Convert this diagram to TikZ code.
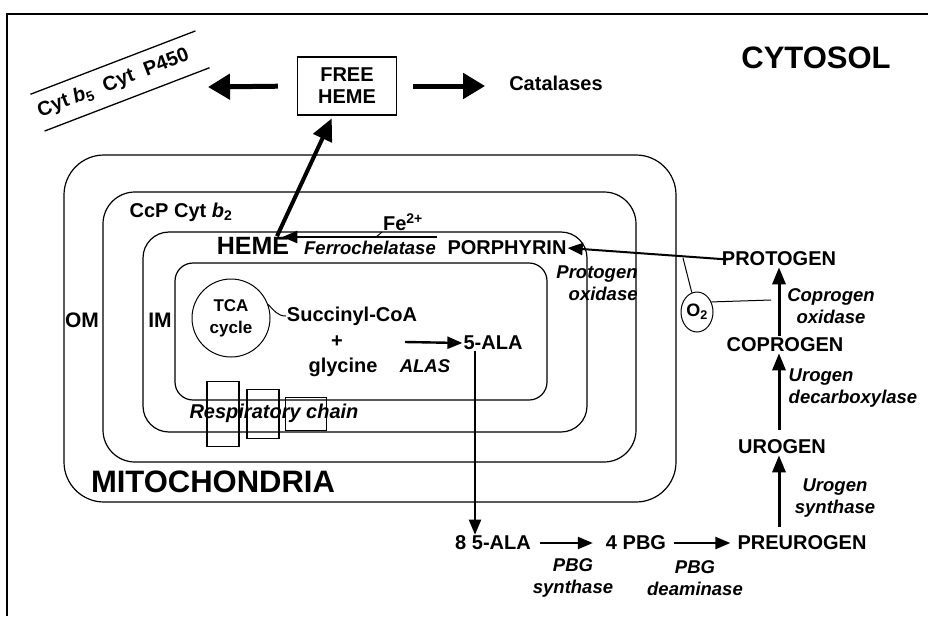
\documentclass[tikz,border=0pt]{standalone}
\usepackage{fontspec}
\setmainfont{Liberation Sans}
\usetikzlibrary{arrows.meta,positioning,shapes.geometric}
\tikzset{
  lbl/.style={font=\bfseries\fontsize{20}{22}\selectfont, inner sep=1pt},
  big/.style={font=\bfseries\fontsize{31}{33}\selectfont, inner sep=1pt},
  enz/.style={font=\bfseries\itshape\fontsize{18.5}{22}\selectfont, align=center, inner sep=1pt},
  memb/.style={draw, line width=1.2pt},
  rc/.style={draw, line width=1.6pt, inner sep=0pt},
  link/.style={line width=1pt},
  fat/.style={-{Triangle[length=22pt,width=25pt]}, line width=5pt},
  fat2/.style={-{Triangle[length=22pt,width=20pt]}, line width=4pt},
  arr/.style={-{Triangle[length=15pt,width=12pt]}, line width=2.4pt},
  uparr/.style={-{Triangle[length=17pt,width=13pt]}, line width=3pt}
}
\begin{document}
\begin{tikzpicture}[x=1pt,y=-1pt]
\useasboundingbox (0,0) rectangle (928,616);
\draw[line width=1.5pt] (7,616) -- (7,14) -- (928,14);

% membranes
\draw[memb, rounded corners=40pt] (64,155) rectangle (676,502);
\draw[memb, rounded corners=32pt] (103,192) rectangle (636,462);
\draw[memb, rounded corners=26pt] (143,232) rectangle (587,432);
\draw[memb, rounded corners=18pt] (175,263) rectangle (547,400);

% cytosol
\node[lbl, draw, line width=1.3pt, minimum width=99pt, minimum height=58pt, align=center] (freeheme) at (347,86) {FREE\\HEME};
\node[big] (cyto) at (816,58) {CYTOSOL};
\node[lbl] (catal) at (556,83) {Catalases};
\node[lbl, rotate=21, minimum width=170pt, minimum height=39pt] (cyt) at (120,81) {Cyt \textit{b}\textsubscript{5}\hspace{0.3em} Cyt\hspace{0.3em} P450\hspace*{14pt}};
\draw[link, line width=1.3pt] (cyt.north west) -- (cyt.north east);
\draw[link, line width=1.3pt] (cyt.south west) -- (cyt.south east);
\coordinate (tocyt) at (208,87);
\draw[fat, shorten <=19pt] (freeheme.west) -- (tocyt);
\draw[fat, shorten <=16pt, shorten >=23pt] (freeheme.east) -- (freeheme.east -| catal.west);

% mitochondria
\node[big] (mito) at (213,482) {MITOCHONDRIA};
\node[lbl, font=\bfseries\fontsize{21}{22}\selectfont] (om) at (82,320) {OM};
\node[lbl, font=\bfseries\fontsize{21}{22}\selectfont] (im) at (160,320) {IM};
\node[lbl] (ccp) at (181,212) {CcP Cyt \textit{b}\textsubscript{2}};
\node[lbl, font=\bfseries\fontsize{25}{27}\selectfont] (heme) at (253,246) {HEME};
\node[lbl] (fe) at (403,222) {Fe\textsuperscript{2+}};
\node[enz] (ferro) at (370,248) {Ferrochelatase};
\node[lbl] (porph) at (507,248) {PORPHYRIN};
\node[draw, circle, minimum size=78pt, inner sep=0pt, line width=1pt, align=center, font=\bfseries\fontsize{17}{22}\selectfont] (tca) at (231,318) {TCA\\cycle};
\node[lbl] (succ) at (352,316) {Succinyl-CoA};
\node[lbl] (plus) at (337,342) {+};
\node[lbl] (gly) at (343,367) {glycine};
\node[enz] (alas) at (425,366) {ALAS};
\node[lbl] (ala5) at (493,343) {5-ALA};
\node[enz, font=\bfseries\itshape\fontsize{20}{22}\selectfont] (resp) at (274,413) {Respiratory chain};
\node[rc, minimum width=32pt, minimum height=65pt] (rc1) at (223,414) {};
\node[rc, minimum width=32pt, minimum height=49pt] (rc2) at (263,414) {};
\node[rc, minimum width=41pt, minimum height=33pt] (rc3) at (306,414) {};

\draw[fat2, shorten >=3pt] ([xshift=24pt]heme.north) -- ([xshift=-14pt]freeheme.south);
\draw[arr, shorten <=9pt, shorten >=-8pt] ([yshift=11pt]porph.west) -- ([yshift=9pt]heme.east);
\coordinate (fejoin) at (376,237);
\draw[link] (fe.south west) to[out=-110,in=60] (fejoin);
\draw[link] (tca.20) to[out=-45,in=180] (succ.west);
\coordinate (alastail) at (405,342);
\draw[arr] (alastail) -- (ala5.west);

% heme pathway outside
\node[lbl] (protogen) at (779,259) {PROTOGEN};
\node[enz, align=right] (protox) at (597,283) {Protogen\\oxidase};
\node[draw, ellipse, minimum width=32pt, minimum height=40pt, inner sep=0pt, line width=1pt, font=\bfseries\fontsize{18}{20}\selectfont] (o2) at (697,312) {O\textsubscript{2}};
\node[enz] (coprox) at (831,306) {Coprogen\\oxidase};
\node[lbl] (coprogen) at (785,345) {COPROGEN};
\node[enz, align=left] (urodc) at (853,388) {Urogen\\decarboxylase};
\node[lbl] (urogen) at (782,447) {UROGEN};
\node[enz] (urosyn) at (835,498) {Urogen\\synthase};
\node[lbl] (preuro) at (802,543) {PREUROGEN};
\node[lbl] (pbg4) at (636,543) {4 PBG};
\node[lbl] (ala8) at (493,543) {8 5-ALA};
\node[enz] (pbgsyn) at (573,578) {PBG\\synthase};
\node[enz] (pbgdea) at (695,578) {PBG\\deaminase};

\draw[arr, line width=2pt, shorten <=-7pt] (protogen.west) -- (porph.east);
\coordinate (o2a) at (683,258);
\coordinate (o2b) at (771,300);
\draw[link] (o2.105) -- (o2a);
\draw[link] (o2.35) -- (o2b);
\draw[uparr, shorten <=1pt] (coprogen.north -| protogen) -- (protogen.south);
\draw[uparr, shorten <=9pt] (urogen.north -| protogen) -- (coprogen.south -| protogen);
\draw[uparr, shorten <=8pt] (preuro.north -| protogen) -- (urogen.south -| protogen);
\draw[arr, line width=2pt] ([xshift=-18pt]ala5.south) -- ([xshift=-18pt]ala8.north);
\draw[arr, shorten <=8pt, shorten >=12pt] (ala8.east) -- (pbg4.west);
\draw[arr, shorten <=7pt, shorten >=6pt] (pbg4.east) -- (preuro.west);
\end{tikzpicture}
\end{document}
